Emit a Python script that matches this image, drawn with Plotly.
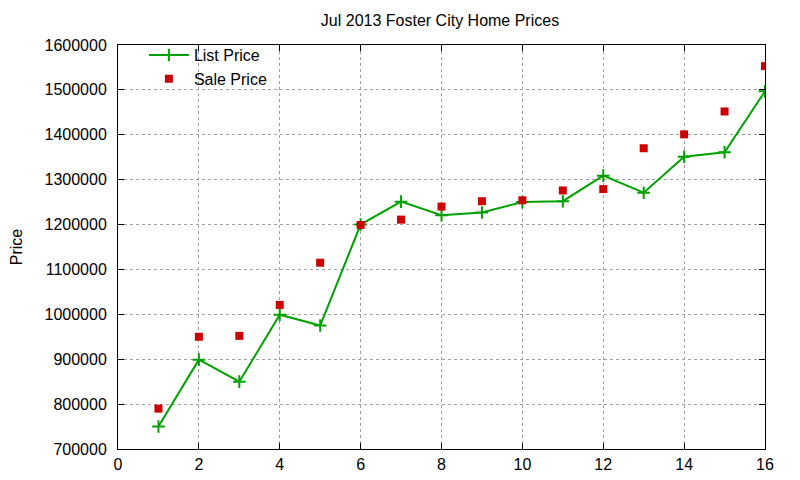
import plotly.graph_objects as go

# 数据：序号与价格
homes = list(range(1, 17))
list_price = [750000, 899000, 850000, 999000, 975000, 1200000, 1251000, 1221000,
              1227000, 1250000, 1252000, 1309000, 1271000, 1351000, 1361000, 1497000]
sale_price = [790000, 950000, 952000, 1021000, 1115000, 1199000, 1211000, 1240000,
              1252000, 1254000, 1276000, 1279000, 1370000, 1401000, 1452000, 1553000]

green = "rgb(0,160,0)"
red = "rgb(204,0,0)"

fig = go.Figure()

# 挂牌价：折线 + 十字标记
fig.add_trace(go.Scatter(
    x=homes, y=list_price, name="List Price", mode="lines+markers",
    line=dict(color=green, width=2),
    marker=dict(symbol="cross-thin", size=9, line=dict(color=green, width=2)),
))

# 成交价：红色方块
fig.add_trace(go.Scatter(
    x=homes, y=sale_price, name="Sale Price", mode="markers",
    marker=dict(symbol="square", size=8, color=red),
))

axis_common = dict(
    showline=True, linecolor="black", linewidth=1, mirror="allticks",
    ticks="inside", ticklen=6, tickcolor="black",
    showgrid=True, gridcolor="#a0a0a0", griddash="dot", gridwidth=1,
    zeroline=False, automargin=False,
)

fig.update_layout(
    width=800, height=480,
    paper_bgcolor="white", plot_bgcolor="white",
    font=dict(family="Liberation Sans, Arial, sans-serif", size=16, color="black"),
    title=dict(text="Jul 2013 Foster City Home Prices", x=0.54, xanchor="center",
               y=0.975, yanchor="middle", font=dict(size=16)),
    margin=dict(l=110, r=43, t=37, b=39),
    showlegend=True,
    legend=dict(x=0.04, y=1.017, xanchor="left", yanchor="top",
                bgcolor="rgba(0,0,0,0)", font=dict(size=16),
                tracegroupgap=0, itemwidth=40),
)

fig.update_xaxes(range=[0, 16], dtick=2, tick0=0, ticklabelstandoff=1, **axis_common)
fig.update_yaxes(range=[700000, 1600000], dtick=100000, tickformat="d",
                 ticklabelstandoff=7,
                 title=dict(text="Price", standoff=20, font=dict(size=16)), **axis_common)

fig.write_html("out.html")
